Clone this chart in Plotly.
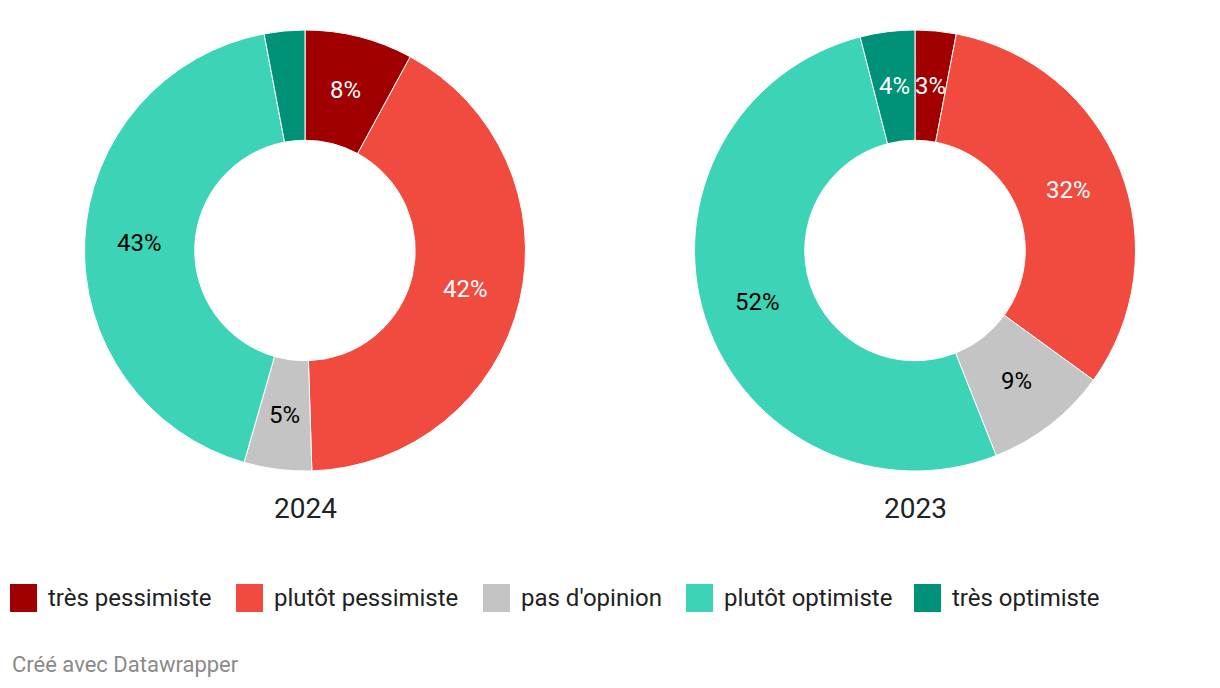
import math
import plotly.graph_objects as go

categories = ["très pessimiste", "plutôt pessimiste", "pas d'opinion", "plutôt optimiste", "très optimiste"]
values_2024 = [8, 42, 5, 43, 3]
values_2023 = [3, 32, 9, 52, 4]
labels_2024 = ["8%", "42%", "5%", "43%", ""]
labels_2023 = ["3%", "32%", "9%", "52%", "4%"]
years = ["2024", "2023"]
colors = ["#a00000", "#f04b3e", "#c4c4c4", "#3dd3b7", "#009278"]
text_colors = ["#ffffff", "#ffffff", "#000000", "#000000", "#ffffff"]

OFF = 8  # page body margin
W, H = 1220 - 2 * OFF, 688 - 2 * OFF


def px(x):
    return (x - OFF) / W


def py(y):
    return 1 - (y - OFF) / H


fig = go.Figure()

R = 220.5
HOLE = 0.5
centers = [(305, 250.5), (915, 250.5)]
all_vals = [values_2024, values_2023]
all_labs = [labels_2024, labels_2023]

for vals, labs, (cx, cy) in zip(all_vals, all_labs, centers):
    fig.add_trace(go.Pie(
        labels=categories, values=vals, textinfo="none",
        sort=False, direction="clockwise", rotation=0, hole=HOLE,
        marker=dict(colors=colors, line=dict(color="#ffffff", width=1)),
        domain=dict(x=[px(cx - R), px(cx + R)], y=[py(cy + R), py(cy - R)]),
        showlegend=False, hoverinfo="label+value",
    ))
    # slice labels at mid-angle, middle of the ring
    total = sum(vals)
    cum = 0
    rl = R * (1 + HOLE) / 2
    for v, lab, tc in zip(vals, labs, text_colors):
        mid = (cum + v / 2) / total * 2 * math.pi
        cum += v
        if not lab:
            continue
        lx = cx + rl * math.sin(mid)
        ly = cy - rl * math.cos(mid)
        fig.add_annotation(x=px(lx), y=py(ly), xref="paper", yref="paper",
                           text=lab, showarrow=False, xanchor="center", yanchor="middle",
                           font=dict(family="Roboto", size=24, color=tc))

# Year labels
for yr, (cx, cy) in zip(years, centers):
    fig.add_annotation(x=px(cx), y=py(508), xref="paper", yref="paper",
                       text=yr, showarrow=False, xanchor="center", yanchor="middle",
                       font=dict(family="Roboto", size=28, color="#222222"))

# Legend
sq_x = [10, 236, 483, 686, 914]
for cat, col, x0 in zip(categories, colors, sq_x):
    fig.add_shape(type="rect", xref="paper", yref="paper",
                  x0=px(x0), x1=px(x0 + 27), y0=py(612), y1=py(584),
                  fillcolor=col, line=dict(width=0))
    fig.add_annotation(x=px(x0 + 36), y=py(598), xref="paper", yref="paper",
                       text=cat, showarrow=False, xanchor="left", yanchor="middle",
                       font=dict(family="Roboto", size=24, color="#222222"))

fig.add_annotation(x=px(10), y=py(664), xref="paper", yref="paper",
                   text="Créé avec Datawrapper", showarrow=False, xanchor="left", yanchor="middle",
                   font=dict(family="Roboto", size=22, color="#8a8a8a"))

fig.update_layout(
    width=W, height=H, margin=dict(l=0, r=0, t=0, b=0),
    paper_bgcolor="#ffffff", plot_bgcolor="#ffffff",
    font=dict(family="Roboto"),
)
fig.write_html("out.html")
